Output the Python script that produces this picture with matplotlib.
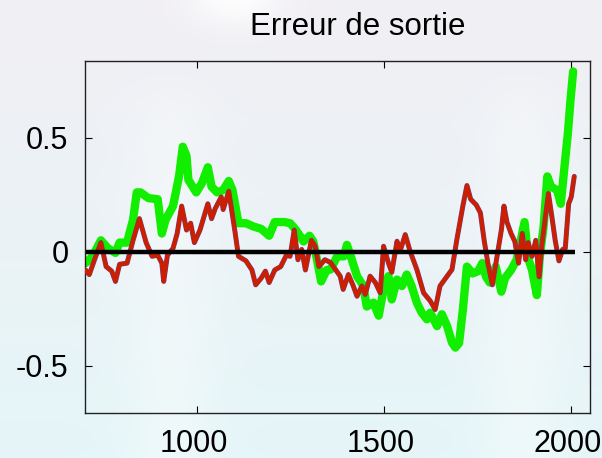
import numpy as np
import matplotlib.pyplot as plt
import matplotlib.patheffects as pe
import matplotlib.transforms as mtransforms

# years and output error for the two reconstructions
years_green = [701, 720, 742, 761, 781, 792, 812, 828, 838, 848, 869, 894, 905, 915,
               935, 951, 961, 971, 976, 997, 1012, 1028, 1038, 1053, 1069, 1084, 1094,
               1110, 1130, 1151, 1171, 1192, 1207, 1233, 1248, 1264, 1284, 1300, 1310,
               1320, 1331, 1346, 1356, 1374, 1392, 1400, 1413, 1427, 1444, 1453, 1471,
               1485, 1498, 1511, 1520, 1534, 1547, 1560, 1573, 1587, 1600, 1614, 1623,
               1641, 1654, 1668, 1681, 1690, 1700, 1710, 1721, 1736, 1751, 1762, 1772,
               1782, 1798, 1813, 1823, 1839, 1854, 1875, 1885, 1895, 1908, 1916, 1926,
               1936, 1946, 1962, 1972, 1982, 1991, 1998, 2005]
err_green = [-0.05, -0.02, 0.05, 0.015, -0.005, 0.04, 0.04, 0.14, 0.26, 0.26, 0.235,
             0.23, 0.08, 0.14, 0.20, 0.33, 0.46, 0.42, 0.315, 0.26, 0.30, 0.37, 0.285,
             0.26, 0.27, 0.31, 0.27, 0.125, 0.125, 0.11, 0.10, 0.07, 0.13, 0.13, 0.125,
             0.095, 0.045, 0.07, 0.045, -0.035, -0.13, -0.08, -0.078, -0.02, -0.02,
             0.03, -0.034, -0.107, -0.15, -0.24, -0.223, -0.28, -0.165, -0.107, -0.209,
             -0.122, -0.15, -0.10, -0.15, -0.223, -0.267, -0.296, -0.267, -0.326, -0.274,
             -0.326, -0.398, -0.42, -0.40, -0.255, -0.065, -0.095, -0.085, -0.05, -0.11,
             -0.135, -0.065, -0.175, -0.115, -0.08, -0.035, 0.13, -0.03, -0.08, -0.19,
             -0.02, 0.11, 0.33, 0.285, 0.27, 0.21, 0.375, 0.52, 0.665, 0.79]

years_red = [701, 711, 725, 742, 756, 771, 781, 792, 812, 828, 845, 863, 879, 894, 905,
             910, 920, 935, 946, 958, 971, 982, 992, 1007, 1028, 1038, 1048, 1064, 1069,
             1084, 1100, 1110, 1130, 1146, 1156, 1171, 1182, 1192, 1207, 1223, 1238,
             1248, 1259, 1269, 1279, 1289, 1305, 1315, 1325, 1341, 1356, 1382, 1390,
             1404, 1417, 1427, 1440, 1449, 1462, 1476, 1489, 1498, 1511, 1520, 1534,
             1542, 1556, 1569, 1587, 1605, 1623, 1636, 1649, 1668, 1681, 1694,
             1710, 1721, 1731, 1746, 1757, 1767, 1777, 1789, 1803, 1813, 1820, 1828,
             1839, 1849, 1859, 1869, 1878, 1885, 1895, 1905, 1914, 1921, 1931, 1939,
             1948, 1957, 1967, 1977, 1984, 1993, 2000, 2008]
err_red = [-0.08, -0.10, -0.035, 0.04, -0.065, -0.085, -0.13, -0.055, -0.05, 0.05,
           0.145, 0.04, -0.02, -0.015, -0.05, -0.13, -0.015, 0.015, 0.08, 0.20, 0.095,
           0.125, 0.04, 0.095, 0.21, 0.145, 0.19, 0.24, 0.185, 0.265, 0.095, -0.02,
           -0.04, -0.08, -0.145, -0.115, -0.085, -0.135, -0.08, -0.065, -0.015, -0.02,
           0.095, -0.035, 0.01, -0.08, 0.05, 0.025, -0.065, -0.035, -0.047, -0.107,
           -0.165, -0.10, -0.15, -0.195, -0.15, -0.187, -0.107, -0.135, -0.18, 0.024,
           -0.049, -0.09, 0.046, 0.002, 0.075, 0.002, -0.078, -0.18, -0.216, -0.253,
           -0.15, -0.107, -0.078, 0.053, 0.20, 0.29, 0.23, 0.205, 0.17, 0.05,
           -0.05, -0.145, -0.005, 0.095, 0.20, 0.13, 0.08, 0.045, -0.05, 0.08, -0.035,
           0.04, -0.02, 0.05, -0.11, 0.025, 0.155, 0.255, 0.155, 0.05, -0.04, 0.01,
           0.015, 0.21, 0.24, 0.33]

xticks = [1000, 1500, 2000]
yticks = [-0.5, 0, 0.5]
ytick_labels = ['-0.5', '0', '0.5']

plt.rcParams['font.family'] = ['Liberation Sans', 'DejaVu Sans']

fig = plt.figure(figsize=(6.02, 4.58), dpi=100)

# soft pale background behind everything
bg = fig.add_axes([0, 0, 1, 1], zorder=-10)
h, w = 458, 602
yy, xx = np.mgrid[0:h, 0:w]
t = yy / h
top = np.array([241, 239, 244]) / 255
bot = np.array([229, 246, 248]) / 255
img = top[None, None, :] * (1 - t[..., None]) + bot[None, None, :] * t[..., None]
band = (np.exp(-((xx - 170) / 45.0) ** 2) + np.exp(-((xx - 520) / 40.0) ** 2)) * 0.6
band *= np.clip((yy - 60) / 80.0, 0, 1)
glow = np.exp(-(((xx - 235) / 45.0) ** 2 + ((yy + 5) / 30.0) ** 2))
white = np.ones(3)
mix = np.clip(band * 0.55 + glow * 0.9, 0, 1)[..., None]
img = img * (1 - mix) + white * mix
bg.imshow(img, aspect='auto', extent=[0, 1, 0, 1])
bg.axis('off')

ax = fig.add_axes([0.1415, 0.099, 0.8385, 0.768])
ax.set_facecolor('none')

ax.plot(years_green, err_green, color='#11ee00', lw=6.0, solid_capstyle='round',
        solid_joinstyle='round', zorder=2)
ax.plot(years_red, err_red, color='#cc1f00', lw=2.8, solid_joinstyle='round',
        solid_capstyle='round', zorder=3,
        path_effects=[pe.Stroke(linewidth=3.6, foreground='#7a3a7a'), pe.Normal()])
ax.hlines(0, years_green[0], years_red[-1] + 2, color='black', lw=3.2, zorder=4)

ax.set_xlim(700, 2050)
ax.set_ylim(-0.705, 0.836)
ax.set_xticks(xticks)
ax.set_xticklabels([str(v) for v in xticks])
ax.set_yticks(yticks)
ax.set_yticklabels(ytick_labels)
ax.tick_params(direction='in', length=5, width=0.8, top=True, right=True,
               labelsize=22, colors='black')
ax.tick_params(axis='x', pad=12)
ax.tick_params(axis='y', pad=12)
for s in ax.spines.values():
    s.set_linewidth(1.0)
    s.set_color('#222222')

# year labels sit a little left of their ticks
shift = mtransforms.ScaledTranslation(-4 / 100, 0, fig.dpi_scale_trans)
for lab in ax.get_xticklabels():
    lab.set_transform(lab.get_transform() + shift)

fig.text(358 / 602, 1 - 35 / 458, 'Erreur de sortie', ha='center', va='baseline',
         fontsize=22.5)

fig.savefig('out.png', dpi=100)
